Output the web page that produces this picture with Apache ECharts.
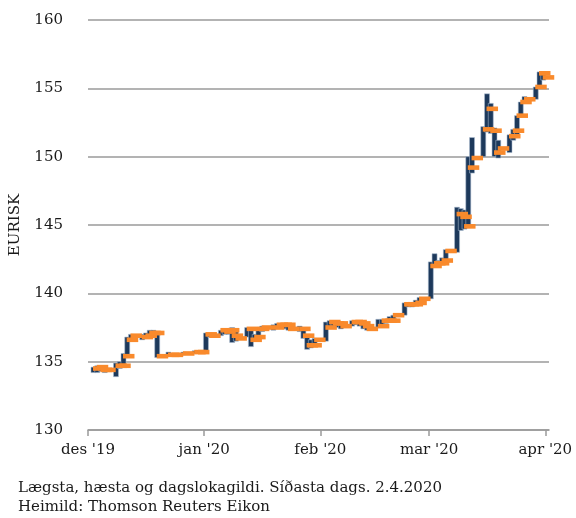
<!DOCTYPE html>
<html><head><meta charset="utf-8">
<script src="https://cdn.jsdelivr.net/npm/echarts@6/dist/echarts.min.js"></script>
<style>html,body{margin:0;padding:0;background:#fff}#c{width:576px;height:518px}</style>
</head><body><div id="c"></div>
<script>
const dates = [
'2019-12-03','2019-12-04','2019-12-05','2019-12-06',
'2019-12-09','2019-12-10','2019-12-11','2019-12-12','2019-12-13',
'2019-12-16','2019-12-17','2019-12-18','2019-12-19','2019-12-20',
'2019-12-23','2019-12-24','2019-12-27','2019-12-30','2019-12-31',
'2020-01-02','2020-01-03',
'2020-01-06','2020-01-07','2020-01-08','2020-01-09','2020-01-10',
'2020-01-13','2020-01-14','2020-01-15','2020-01-16','2020-01-17',
'2020-01-20','2020-01-21','2020-01-22','2020-01-23','2020-01-24',
'2020-01-27','2020-01-28','2020-01-29','2020-01-30','2020-01-31',
'2020-02-03','2020-02-04','2020-02-05','2020-02-06','2020-02-07',
'2020-02-10','2020-02-11','2020-02-12','2020-02-13','2020-02-14',
'2020-02-17','2020-02-18','2020-02-19','2020-02-20','2020-02-21',
'2020-02-24','2020-02-25','2020-02-26','2020-02-27','2020-02-28',
'2020-03-02','2020-03-03','2020-03-04','2020-03-05','2020-03-06',
'2020-03-09','2020-03-10','2020-03-11','2020-03-12','2020-03-13',
'2020-03-16','2020-03-17','2020-03-18','2020-03-19','2020-03-20',
'2020-03-23','2020-03-24','2020-03-25','2020-03-26','2020-03-27',
'2020-03-30','2020-03-31','2020-04-01'
];
const highs = [
134.6,134.7,134.6,134.5,
134.9,135.0,135.6,136.8,137.0,
137.0,137.1,137.3,137.3,137.2,
135.7,135.6,135.7,135.8,135.8,
137.1,137.1,
137.3,137.4,137.4,137.5,137.2,
137.5,137.3,137.0,137.5,137.6,
137.7,137.8,137.8,137.8,137.7,
137.6,137.4,137.0,136.6,136.7,
137.9,138.0,138.0,137.9,137.8,
138.0,138.0,137.9,137.8,137.6,
138.1,138.1,138.1,138.3,138.4,
139.3,139.3,139.3,139.5,139.7,
142.3,142.9,142.4,142.6,143.2,
146.3,146.2,146.1,150.0,151.4,
152.2,154.6,153.9,152.1,151.2,
151.6,152.0,153.0,154.0,154.4,
155.1,156.2,156.2
];
const lows = [
134.2,134.2,134.3,134.2,
133.9,134.5,134.7,135.4,136.5,
136.6,136.7,136.8,136.9,135.3,
135.4,135.4,135.5,135.6,135.6,
135.8,136.8,
136.9,137.0,137.0,136.4,136.5,
136.8,136.1,136.5,136.8,137.2,
137.3,137.4,137.5,137.4,137.3,
137.2,136.7,135.9,136.0,136.1,
136.5,137.5,137.6,137.5,137.4,
137.6,137.7,137.6,137.4,137.3,
137.5,137.6,137.8,137.9,137.9,
138.4,139.0,139.0,139.1,139.3,
139.6,142.1,142.0,142.1,142.4,
143.0,144.6,144.7,144.8,148.8,
150.0,151.8,151.7,150.0,149.9,
150.3,151.2,151.6,152.9,153.9,
154.2,155.0,155.6
];
const closes = [
134.5,134.6,134.4,134.4,
134.7,134.7,135.4,136.6,136.9,
136.8,136.9,137.1,137.1,135.4,
135.5,135.5,135.6,135.7,135.7,
137.0,136.9,
137.3,137.2,137.3,136.9,136.7,
137.4,136.6,136.8,137.4,137.5,
137.5,137.7,137.7,137.7,137.4,
137.4,136.9,136.2,136.2,136.6,
137.5,137.9,137.8,137.8,137.6,
137.9,137.9,137.8,137.6,137.4,
137.6,138.0,138.0,138.0,138.4,
139.2,139.2,139.2,139.3,139.6,
142.0,142.2,142.2,142.4,143.1,
145.8,145.6,144.9,149.2,149.9,
152.0,153.5,151.9,150.3,150.6,
151.5,151.9,153.0,154.0,154.2,
155.1,156.1,155.8
];
const monthTicks = ['2019-12-01','2020-01-01','2020-02-01','2020-03-01','2020-04-01'];
const monthLabels = ["des '19","jan '20","feb '20","mar '20","apr '20"];
const axisEnd = '2020-04-02';
const yTitle = 'EURISK';
const captionLines = ['Lægsta, hæsta og dagslokagildi. Síðasta dags. 2.4.2020','Heimild: Thomson Reuters Eikon'];

const DAY = 86400000;
const base = Date.parse(monthTicks[0]);
const dayNum = s => Math.round((Date.parse(s) - base) / DAY);
const tickDays = monthTicks.map(dayNum);
const data = dates.map((d, i) => [dayNum(d), lows[i], highs[i], closes[i]]);

const FONT = 'DejaVu Serif';
const chart = echarts.init(document.getElementById('c'), null, {renderer: 'canvas'});

function renderBar(params, api) {
  const x = api.value(0);
  const lo = api.coord([x, api.value(1)]);
  const hi = api.coord([x, api.value(2)]);
  const cx = lo[0] - 2;
  const h = Math.max(lo[1] - hi[1], 2);
  return {
    type: 'rect',
    shape: {x: cx - 2.5, y: hi[1], width: 5, height: h},
    style: {fill: '#1d395b', stroke: 'rgba(170,188,208,0.7)', lineWidth: 0.8}
  };
}
function renderClose(params, api) {
  const x = api.value(0);
  const c = api.coord([x, api.value(3)]);
  const cx = c[0] - 2;
  return {
    type: 'rect',
    shape: {x: cx - 0.5, y: c[1] - 2.3, width: 11.5, height: 4.6},
    style: {fill: '#f98a2c'}
  };
}

const option = {
  animation: false,
  backgroundColor: '#fff',
  grid: {left: 87, right: 27, top: 20, bottom: 88},
  xAxis: {
    type: 'value', min: 0, max: dayNum(axisEnd),
    splitLine: {show: false},
    axisLine: {show: true, lineStyle: {color: '#9a9a9a', width: 1.6}},
    axisTick: {show: true, customValues: tickDays, length: 6, lineStyle: {color: '#9a9a9a', width: 1.5}},
    axisLabel: {
      customValues: tickDays, margin: 13,
      formatter: v => { const k = tickDays.indexOf(Math.round(v)); return k >= 0 ? monthLabels[k] : ''; },
      fontFamily: FONT, fontSize: 15, color: '#1a1a1a'
    }
  },
  yAxis: {
    type: 'value', min: 130, max: 160, interval: 5,
    name: yTitle, nameLocation: 'middle', nameGap: 65, nameRotate: 90,
    nameTextStyle: {fontFamily: FONT, fontSize: 15, color: '#1a1a1a'},
    axisLine: {show: false}, axisTick: {show: false},
    axisLabel: {fontFamily: FONT, fontSize: 15, color: '#1a1a1a', margin: 25},
    splitLine: {lineStyle: {color: '#9a9a9a', width: 1.6}}
  },
  series: [
    {type: 'custom', renderItem: renderBar, data: data, encode: {x: 0, y: [1, 2]}, clip: false},
    {type: 'custom', renderItem: renderClose, data: data, encode: {x: 0, y: 3}, clip: false}
  ],
  graphic: captionLines.map((t, i) => ({
    type: 'text', left: 18, top: 481 + i * 19,
    style: {text: t, fontFamily: FONT, fontSize: 15, fill: '#1a1a1a'}
  }))
};
chart.setOption(option);
</script></body></html>
